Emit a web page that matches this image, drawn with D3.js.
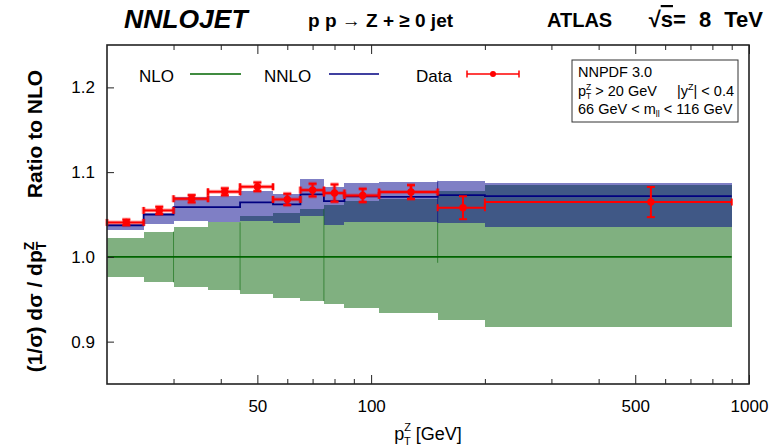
<!DOCTYPE html>
<html><head><meta charset="utf-8">
<script src="https://cdn.jsdelivr.net/npm/d3@7"></script>
<style>
body{margin:0;background:#fff}
text{font-family:"Liberation Sans",Arial,Helvetica,sans-serif;fill:#000}
</style>
</head><body>
<svg id="chart" width="776" height="448"></svg>
<script>
// ---------------- data ----------------
const binEdges = [20, 25, 30, 37, 45, 55, 65, 75, 85, 105, 150, 200, 900];
const nloLow   = [0.976, 0.970, 0.965, 0.9607, 0.956, 0.9513, 0.9478, 0.9439, 0.9392, 0.9337, 0.9254, 0.9172];
const nloHigh  = [1.0227, 1.0298, 1.0356, 1.0407, 1.0478, 1.0521, 1.0568, 1.0607, 1.0654, 1.068, 1.078, 1.085];
const nnloCentral = [1.0372, 1.0498, 1.0588, 1.0588, 1.0643, 1.0619, 1.0737, 1.0659, 1.0713, 1.0709, 1.0729, 1.0717];
const nnloLow  = [1.0313, 1.0385, 1.0427, 1.041, 1.0427, 1.0396, 1.0478, 1.038, 1.0415, 1.0407, 1.0396, 1.0349];
const nnloHigh = [1.0388, 1.0513, 1.0706, 1.0713, 1.078, 1.0745, 1.0921, 1.0819, 1.0874, 1.0886, 1.0898, 1.0874];
const dataX    = [22.5, 27.5, 33.5, 41, 50, 60, 70, 80, 95, 127.5, 175, 550];
const dataY    = [1.0407, 1.0548, 1.0686, 1.0768, 1.0827, 1.0678, 1.0788, 1.0753, 1.0725, 1.0765, 1.058, 1.0647];
const dataErr  = [0.0033, 0.0043, 0.0043, 0.0041, 0.0051, 0.0067, 0.0075, 0.0102, 0.0078, 0.0082, 0.0135, 0.0178];
const xTickMajor = [50, 100, 500, 1000];
const xTickMinor = [30, 40, 60, 70, 80, 90, 200, 300, 400, 600, 700, 800, 900];
const yTicks = [0.9, 1.0, 1.1, 1.2];
const legendLabels = ["NLO", "NNLO", "Data"];

// ---------------- layout ----------------
const svg = d3.select("#chart");
const L = 107, R = 749, T = 45, B = 384;
const x = d3.scaleLog().domain([20, 1000]).range([L, R]);
const y = d3.scaleLinear().domain([0.85, 1.25]).range([B, T]);

const GREEN = "rgb(128,176,128)";
const BLUE = "rgb(0,0,140)";
const GLINE = "rgb(0,100,0)";
const BLINE = "rgb(0,0,128)";
const RED = "#ff0000";

const bins = d3.range(nloLow.length).map(i => ({
  i, x0: binEdges[i], x1: binEdges[i + 1],
  nlo0: nloLow[i], nlo1: nloHigh[i],
  nn: nnloCentral[i], nn0: nnloLow[i], nn1: nnloHigh[i],
  dx: dataX[i], dy: dataY[i], de: dataErr[i]
}));

const plot = svg.append("g");

// NLO band
plot.selectAll("rect.nlo").data(bins).join("rect")
  .attr("class", "nlo")
  .attr("x", d => x(d.x0)).attr("width", d => x(d.x1) - x(d.x0))
  .attr("y", d => y(d.nlo1)).attr("height", d => y(d.nlo0) - y(d.nlo1))
  .attr("fill", GREEN).attr("shape-rendering", "crispEdges");

// NNLO band
plot.selectAll("rect.nnlo").data(bins).join("rect")
  .attr("class", "nnlo")
  .attr("x", d => x(d.x0)).attr("width", d => x(d.x1) - x(d.x0))
  .attr("y", d => y(d.nn1)).attr("height", d => y(d.nn0) - y(d.nn1))
  .attr("fill", BLUE).attr("fill-opacity", 0.5).attr("shape-rendering", "crispEdges");

// faint seams seen in reference at some bin edges (30, 45, 75 GeV)
const seamEdges = [2, 4, 7];
plot.selectAll("line.seam").data(seamEdges).join("line")
  .attr("x1", i => x(binEdges[i])).attr("x2", i => x(binEdges[i]))
  .attr("y1", i => y(nloHigh[i - 1])).attr("y2", i => y(nloLow[i - 1]))
  .attr("stroke", GLINE).attr("stroke-opacity", 0.55).attr("stroke-width", 1);
plot.append("line")
  .attr("x1", x(binEdges[10])).attr("x2", x(binEdges[10]))
  .attr("y1", y(nnloLow[10])).attr("y2", y(0.993))
  .attr("stroke", GLINE).attr("stroke-opacity", 0.6).attr("stroke-width", 1);
plot.append("line")
  .attr("x1", x(binEdges[10])).attr("x2", x(binEdges[10]))
  .attr("y1", y(nnloHigh[10])).attr("y2", y(nnloLow[10]))
  .attr("stroke", BLINE).attr("stroke-opacity", 0.6).attr("stroke-width", 1);

// NLO central line
plot.append("line")
  .attr("x1", x(binEdges[0])).attr("x2", x(binEdges[binEdges.length - 1]))
  .attr("y1", y(1)).attr("y2", y(1))
  .attr("stroke", GLINE).attr("stroke-width", 1.6);

// NNLO central step line
const stepPts = bins.map(d => [d.x0, d.nn]).concat([[binEdges[binEdges.length - 1], nnloCentral[nnloCentral.length - 1]]]);
plot.append("path")
  .attr("d", d3.line().x(d => x(d[0])).y(d => y(d[1])).curve(d3.curveStepAfter)(stepPts))
  .attr("fill", "none").attr("stroke", BLINE).attr("stroke-width", 1.8);

// Data
function drawErr(g, width, opacity) {
  g.append("line").attr("x1", d => x(d.x0)).attr("x2", d => x(d.x1))
    .attr("y1", d => y(d.dy)).attr("y2", d => y(d.dy));
  g.append("line").attr("x1", d => x(d.x0)).attr("x2", d => x(d.x0))
    .attr("y1", d => y(d.dy) - 3.5).attr("y2", d => y(d.dy) + 3.5);
  g.append("line").attr("x1", d => x(d.x1)).attr("x2", d => x(d.x1))
    .attr("y1", d => y(d.dy) - 3.5).attr("y2", d => y(d.dy) + 3.5);
  g.append("line").attr("x1", d => x(d.dx)).attr("x2", d => x(d.dx))
    .attr("y1", d => y(d.dy + d.de)).attr("y2", d => y(d.dy - d.de));
  g.append("line").attr("x1", d => x(d.dx) - 4).attr("x2", d => x(d.dx) + 4)
    .attr("y1", d => y(d.dy + d.de)).attr("y2", d => y(d.dy + d.de));
  g.append("line").attr("x1", d => x(d.dx) - 4).attr("x2", d => x(d.dx) + 4)
    .attr("y1", d => y(d.dy - d.de)).attr("y2", d => y(d.dy - d.de));
  g.selectAll("line").attr("stroke", RED).attr("stroke-width", width).attr("stroke-opacity", opacity);
}
const halo = plot.selectAll("g.halo").data(bins.filter(d => d.i < 10)).join("g").attr("class", "halo");
drawErr(halo, 4, 0.35);
const dg = plot.selectAll("g.data").data(bins).join("g").attr("class", "data");
drawErr(dg, 2, 1);
dg.append("circle").attr("cx", d => x(d.dx)).attr("cy", d => y(d.dy)).attr("r", 3.7).attr("fill", RED);

// ---------------- axes ----------------
const fmtX = d3.format("d");
const axB = svg.append("g").attr("transform", `translate(0,${B})`)
  .call(d3.axisBottom(x).tickValues(xTickMajor).tickSize(-9).tickPadding(16).tickFormat(fmtX));
const axBm = svg.append("g").attr("transform", `translate(0,${B})`)
  .call(d3.axisBottom(x).tickValues(xTickMinor).tickSize(-5).tickFormat(""));
const axT = svg.append("g").attr("transform", `translate(0,${T})`)
  .call(d3.axisTop(x).tickValues(xTickMajor).tickSize(-9).tickFormat(""));
const axTm = svg.append("g").attr("transform", `translate(0,${T})`)
  .call(d3.axisTop(x).tickValues(xTickMinor).tickSize(-5).tickFormat(""));
const axL = svg.append("g").attr("transform", `translate(${L},0)`)
  .call(d3.axisLeft(y).tickValues(yTicks).tickSize(-7).tickPadding(12).tickFormat(d3.format(".1f")));
[axB, axBm, axT, axTm, axL].forEach(a => {
  a.select(".domain").remove();
  a.selectAll(".tick line").attr("stroke", "#222").attr("stroke-width", 1);
  a.selectAll("text").attr("font-family", null).style("font-size", "17px").attr("fill", "#111");
});

svg.append("rect").attr("x", L).attr("y", T).attr("width", R - L).attr("height", B - T)
  .attr("fill", "none").attr("stroke", "#222").attr("stroke-width", 1.6);

// x-axis label: p_T^Z [GeV]
const xl = svg.append("text").attr("x", (L + R) / 2).attr("y", 440).attr("text-anchor", "middle")
  .style("font-size", "18px");
xl.append("tspan").text("p");
xl.append("tspan").attr("dy", -9).style("font-size", "11px").text("Z");
xl.append("tspan").attr("dx", -7).attr("dy", 14).style("font-size", "11px").text("T");
xl.append("tspan").attr("dy", -5).text(" [GeV]");

// y-axis labels (rotated)
svg.append("text").attr("transform", "translate(42,134) rotate(-90)").attr("text-anchor", "middle")
  .style("font-size", "21px").style("font-weight", "bold").text("Ratio to NLO");
const yl = svg.append("text").attr("transform", "translate(42,307) rotate(-90)").attr("text-anchor", "middle")
  .style("font-size", "21px").style("font-weight", "bold");
yl.append("tspan").text("(1/σ) dσ / dp");
yl.append("tspan").attr("dy", -8).style("font-size", "14px").text("Z");
yl.append("tspan").attr("dx", -8.5).attr("dy", 12).style("font-size", "14px").text("T");

// ---------------- titles ----------------
svg.append("text").attr("x", 124).attr("y", 28).style("font-size", "26.5px")
  .style("font-weight", "bold").style("font-style", "italic").text("NNLOJET");
svg.append("text").attr("x", 308).attr("y", 27).style("font-size", "19px")
  .style("font-weight", "bold").text("p p → Z + ≥ 0 jet");
svg.append("text").attr("x", 547).attr("y", 27).style("font-size", "20px").style("font-weight", "bold").text("ATLAS");
const rs = svg.append("text").attr("x", 763).attr("y", 27).attr("text-anchor", "end")
  .style("font-size", "22px").style("font-weight", "bold").style("word-spacing", "7px");
rs.append("tspan").text("√");
rs.append("tspan").style("text-decoration", "overline").text("s");
rs.append("tspan").text("= 8 TeV");

// ---------------- legend ----------------
const lg = svg.append("g");
lg.append("text").attr("x", 139).attr("y", 81.5).style("font-size", "17px").text(legendLabels[0]);
lg.append("line").attr("x1", 190).attr("x2", 241).attr("y1", 74).attr("y2", 74).attr("stroke", GLINE).attr("stroke-width", 1.5);
lg.append("text").attr("x", 264).attr("y", 81.5).style("font-size", "17px").text(legendLabels[1]);
lg.append("line").attr("x1", 329).attr("x2", 379).attr("y1", 74).attr("y2", 74).attr("stroke", BLINE).attr("stroke-width", 1.5);
lg.append("text").attr("x", 416).attr("y", 81.5).style("font-size", "17px").text(legendLabels[2]);
lg.append("line").attr("x1", 467).attr("x2", 519).attr("y1", 74).attr("y2", 74).attr("stroke", RED).attr("stroke-width", 1.5);
lg.append("line").attr("x1", 467).attr("x2", 467).attr("y1", 70.5).attr("y2", 77.5).attr("stroke", RED).attr("stroke-width", 1.5);
lg.append("line").attr("x1", 519).attr("x2", 519).attr("y1", 70.5).attr("y2", 77.5).attr("stroke", RED).attr("stroke-width", 1.5);
lg.append("circle").attr("cx", 493).attr("cy", 74).attr("r", 3).attr("fill", RED);

// ---------------- info box ----------------
const ib = svg.append("g");
ib.append("rect").attr("x", 572).attr("y", 60).attr("width", 166).attr("height", 62)
  .attr("fill", "#fff").attr("stroke", "#333").attr("stroke-width", 1);
ib.append("text").attr("x", 578).attr("y", 76.5).style("font-size", "14.5px").text("NNPDF 3.0");
const t2 = ib.append("text").attr("x", 578).attr("y", 95.5).style("font-size", "14.5px");
t2.append("tspan").text("p");
t2.append("tspan").attr("dy", -6).style("font-size", "8.5px").text("Z");
t2.append("tspan").attr("dx", -5.2).attr("dy", 9.5).style("font-size", "8.5px").text("T");
t2.append("tspan").attr("dy", -3.5).text(" > 20 GeV");
const t2b = ib.append("text").attr("x", 734).attr("y", 95.5).attr("text-anchor", "end").style("font-size", "14.5px");
t2b.append("tspan").text("|y");
t2b.append("tspan").attr("dy", -6).style("font-size", "9px").text("Z");
t2b.append("tspan").attr("dy", 6).text("| < 0.4");
const t3 = ib.append("text").attr("x", 578).attr("y", 114).style("font-size", "14.5px");
t3.append("tspan").text("66 GeV < m");
t3.append("tspan").attr("dy", 2.5).style("font-size", "9px").text("ll");
t3.append("tspan").attr("dy", -2.5).text(" < 116 GeV");
</script>
</body></html>
